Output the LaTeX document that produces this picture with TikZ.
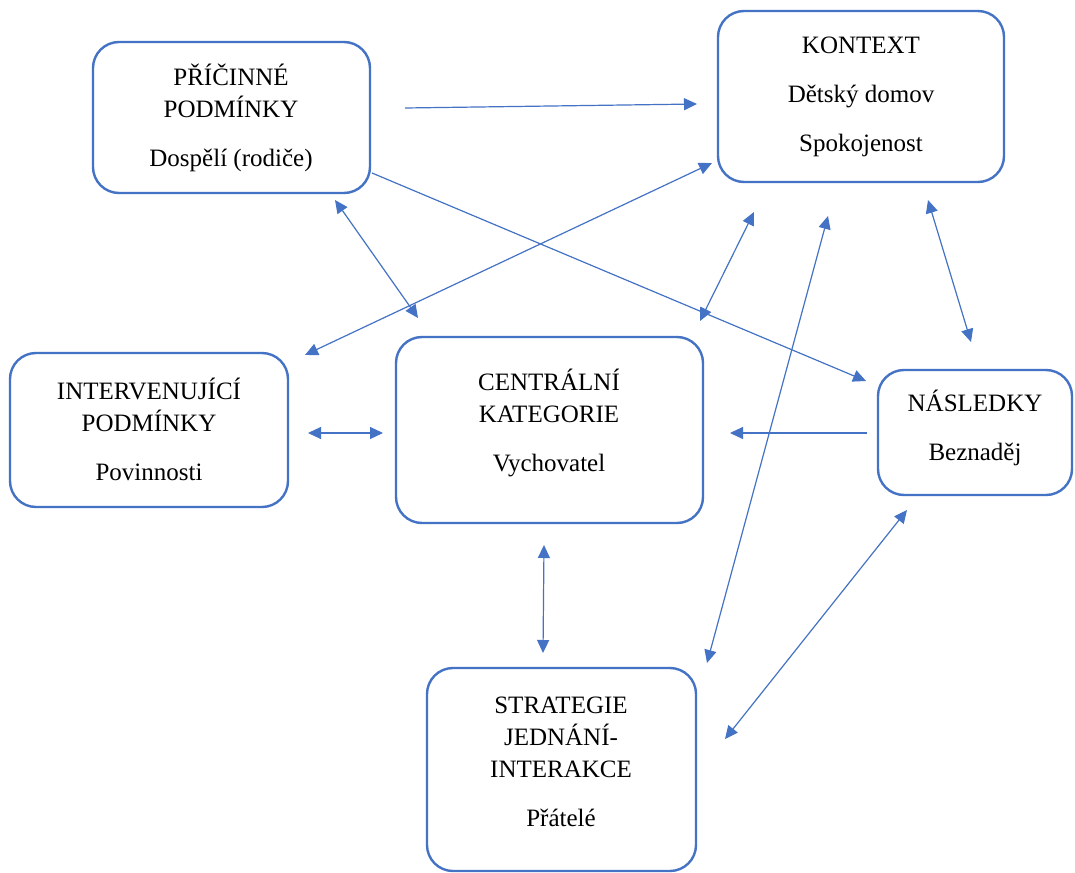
\documentclass[tikz,border=0pt]{standalone}
\usepackage{fontspec}
\setmainfont{Liberation Serif}
\usetikzlibrary{arrows.meta}
\definecolor{accblue}{RGB}{68,114,196}
\begin{document}
\begin{tikzpicture}[x=1pt,y=-1pt,
  box/.style={draw=accblue,line width=2.4pt,rounded corners=26pt},
  lbl/.style={align=center,font=\fontsize{25}{32}\selectfont,text=black},
  conn/.style={draw=accblue,line width=1.2pt},
  tip/.style={-{Triangle[length=13pt,width=12pt]}},
  tips/.style={{Triangle[length=13pt,width=12pt]}-{Triangle[length=13pt,width=12pt]}}]
\useasboundingbox (0,0) rectangle (1075,872);
\fill[white] (0,0) rectangle (1075,872);
% boxes
\draw[box] (93,42) rectangle (370,193);
\draw[box] (718,11) rectangle (1004,182);
\draw[box] (10,353) rectangle (288,507);
\draw[box] (396,337) rectangle (703,523);
\draw[box] (878,370) rectangle (1072,495);
\draw[box] (427,668) rectangle (696,871);
% labels
\node[lbl] (P) at (231,118) {PŘÍČINNÉ\\PODMÍNKY\\[17pt]Dospělí (rodiče)};
\node[lbl] (K) at (861,97) {KONTEXT\\[17pt]Dětský domov\\[17pt]Spokojenost};
\node[lbl] (I) at (149,429) {INTERVENUJÍCÍ\\PODMÍNKY\\[17pt]Povinnosti};
\node[lbl] (C) at (549,423) {CENTRÁLNÍ\\KATEGORIE\\[17pt]Vychovatel};
\node[lbl] (N) at (975,428) {NÁSLEDKY\\[17pt]Beznaděj};
\node[lbl] (S) at (561,762) {STRATEGIE\\JEDNÁNÍ-\\INTERAKCE\\[17pt]Přátelé};
% connector end points
\coordinate (a1s) at (405,108); \coordinate (a1e) at (697,104);
\coordinate (a2s) at (372,173); \coordinate (a2e) at (866,381);
\coordinate (a3s) at (305,355); \coordinate (a3e) at (712,163);
\coordinate (a4s) at (335,200); \coordinate (a4e) at (418,318);
\coordinate (a5s) at (700,321); \coordinate (a5e) at (754,212);
\coordinate (a6s) at (707,663); \coordinate (a6e) at (828,216);
\coordinate (a7s) at (928,200); \coordinate (a7e) at (971,342);
\coordinate (a8s) at (308,433); \coordinate (a8e) at (383,433);
\coordinate (a9s) at (867,433); \coordinate (a9e) at (730,433);
\coordinate (a10s) at (544,545); \coordinate (a10e) at (543,653);
\coordinate (a11s) at (907,510); \coordinate (a11e) at (725,739);
% connectors
\draw[conn,tip] (a1s) -- (a1e);
\draw[conn,tip] (a2s) -- (a2e);
\draw[conn,tips] (a3s) -- (a3e);
\draw[conn,tips] (a4s) -- (a4e);
\draw[conn,tips] (a5s) -- (a5e);
\draw[conn,tips] (a6s) -- (a6e);
\draw[conn,tips] (a7s) -- (a7e);
\draw[conn,tips] (a8s) -- (a8e);
\draw[conn,tip] (a9s) -- (a9e);
\draw[conn,tips] (a10s) -- (a10e);
\draw[conn,tips] (a11s) -- (a11e);
\end{tikzpicture}
\end{document}
